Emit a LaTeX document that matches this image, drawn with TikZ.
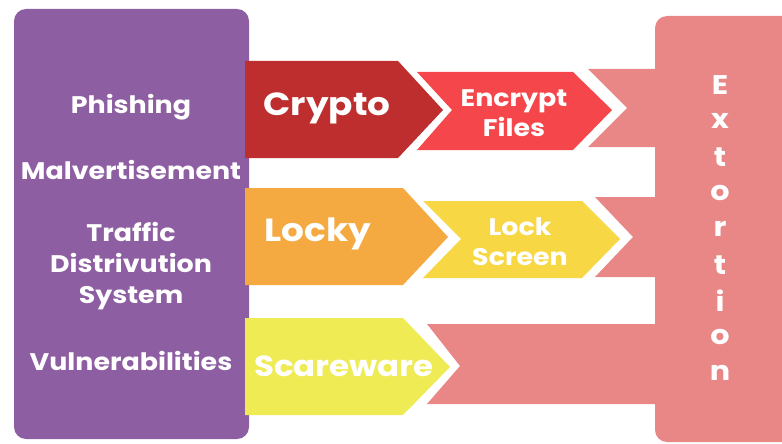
\documentclass[tikz,border=0pt]{standalone}
\usepackage{fontspec}
\setmainfont{Poppins}
\newfontfamily\widefont[FakeStretch=1.12]{Poppins}
\definecolor{purplebox}{HTML}{8E5EA2}
\definecolor{cryptored}{HTML}{BE2E2E}
\definecolor{encryptred}{HTML}{F4464B}
\definecolor{lockyorange}{HTML}{F5A941}
\definecolor{lockyellow}{HTML}{F8D745}
\definecolor{scareyellow}{HTML}{EEEB55}
\definecolor{extpink}{HTML}{E98686}
\tikzset{
  label/.style={text=white, font=\widefont\bfseries, align=center, inner sep=0pt},
  biglabel/.style={label, font=\widefont\bfseries\fontsize{32}{32}\selectfont},
  midlabel/.style={label, font=\widefont\bfseries\fontsize{24}{30}\selectfont},
  listlabel/.style={label, font=\widefont\bfseries\fontsize{24}{31}\selectfont}
}
\begin{document}
\begin{tikzpicture}[x=1pt,y=-1pt]
    \useasboundingbox (0,0) rectangle (782,444);
    % extortion block with its three bands
    \begin{scope}
        \clip (0,0) rectangle (782,444);
        \fill[extpink, rounded corners=12pt] (655,16) rectangle (800,442);
    \end{scope}
    \fill[extpink] (588,69) -- (660,69) -- (660,147) -- (588,147) -- (627,108) -- cycle;
    \fill[extpink] (595,197) -- (660,197) -- (660,277) -- (595,277) -- (633,237) -- cycle;
    \fill[extpink] (427,324) -- (660,324) -- (660,404) -- (427,404) -- (460,366) -- cycle;
    % sources
    \fill[purplebox, rounded corners=12pt] (14,9) rectangle (249,439);
    % first stage arrows
    \fill[cryptored] (245,61) -- (398,61) -- (443,110) -- (398,158) -- (245,158) -- cycle;
    \fill[lockyorange] (245,188) -- (403,188) -- (448,237) -- (403,285) -- (245,285) -- cycle;
    \fill[scareyellow] (245,318) -- (403,318) -- (450,367) -- (403,415) -- (245,415) -- cycle;
    % second stage chevrons
    \fill[encryptred] (417,72) -- (573,72) -- (612,110) -- (573,150) -- (417,150) -- (452,110) -- cycle;
    \fill[lockyellow] (423,201) -- (582,201) -- (620,239) -- (582,278) -- (423,278) -- (461,239) -- cycle;
    % texts
    \node[listlabel] (phishing) at (131,107) {Phishing};
    \node[listlabel] (malvert) at (131,170) {Malvertisement};
    \node[listlabel] (traffic) at (131,266) {Traffic\\Distrivution\\System};
    \node[listlabel] (vuln) at (131,361) {Vulnerabilities};
    \node[biglabel] (crypto) at (327,108) {Crypto};
    \node[biglabel] (locky) at (318,234) {Locky};
    \node[biglabel, font=\widefont\bfseries\fontsize{29}{29}\selectfont] (scareware) at (344,366) {Scareware};
    \node[midlabel] (encrypt) at (514,113) {Encrypt\\Files};
    \node[midlabel] (lockscreen) at (520,242) {Lock\\Screen};
    \foreach \letter [count=\i from 0] in {E,x,t,o,r,t,i,o,n}
        \node[label, font=\widefont\bfseries\fontsize{27}{27}\selectfont] (ext\i) at (720,85+36*\i) {\letter};
\end{tikzpicture}
\end{document}
